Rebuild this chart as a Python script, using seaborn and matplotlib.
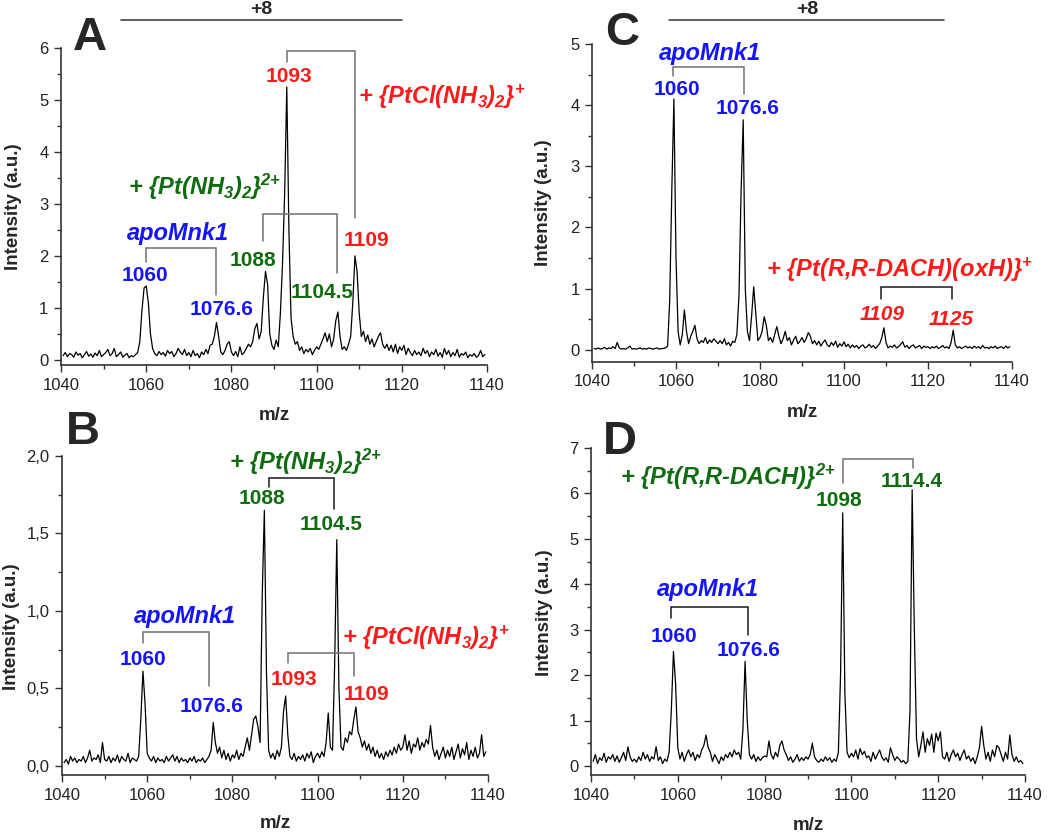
import numpy as np
import pandas as pd
import matplotlib
matplotlib.use("Agg")
import matplotlib.pyplot as plt
import seaborn as sns
from matplotlib.ticker import MultipleLocator, FixedLocator, FixedFormatter

# m/z sampling grid shared by all four spectra (read every 0.5 unit)
mz = np.arange(1040.5, 1140.0, 0.5)

# Panel A: cisplatin-treated Mnk1
int_a = [0.08, 0.14, 0.06, 0.12, 0.10, 0.05, 0.15, 0.09, 0.12, 0.04, 0.10, 0.16, 0.07, 0.11, 0.05, 0.13, 0.08, 0.18, 0.06, 0.10,
         0.14, 0.20, 0.08, 0.12, 0.22, 0.06, 0.10, 0.15, 0.05, 0.09, 0.12, 0.04, 0.08, 0.06, 0.10, 0.14, 0.35, 0.95, 1.38, 1.42,
         1.10, 0.50, 0.22, 0.12, 0.08, 0.16, 0.10, 0.14, 0.07, 0.18, 0.12, 0.16, 0.06, 0.12, 0.22, 0.15, 0.10, 0.20, 0.08, 0.14,
         0.06, 0.18, 0.08, 0.12, 0.04, 0.15, 0.10, 0.20, 0.12, 0.28, 0.30, 0.45, 0.72, 0.45, 0.15, 0.10, 0.18, 0.30, 0.35, 0.15,
         0.08, 0.16, 0.06, 0.25, 0.10, 0.14, 0.22, 0.30, 0.25, 0.35, 0.60, 0.70, 0.40, 0.55, 1.20, 1.70, 1.45, 0.50, 0.28, 0.20,
         0.38, 0.25, 0.90, 1.85, 3.20, 5.25, 2.50, 0.80, 0.45, 0.30, 0.35, 0.18, 0.25, 0.12, 0.20, 0.15, 0.22, 0.10, 0.18, 0.25,
         0.20, 0.30, 0.40, 0.52, 0.35, 0.50, 0.25, 0.40, 0.75, 0.92, 0.45, 0.20, 0.25, 0.18, 0.30, 0.45, 1.10, 2.00, 1.70, 0.90,
         0.45, 0.55, 0.35, 0.48, 0.30, 0.40, 0.25, 0.35, 0.45, 0.52, 0.30, 0.22, 0.30, 0.18, 0.28, 0.15, 0.30, 0.12, 0.25, 0.18,
         0.28, 0.10, 0.22, 0.14, 0.08, 0.18, 0.10, 0.15, 0.08, 0.22, 0.12, 0.18, 0.06, 0.15, 0.10, 0.20, 0.07, 0.14, 0.05, 0.22,
         0.10, 0.18, 0.06, 0.14, 0.08, 0.20, 0.05, 0.12, 0.09, 0.15, 0.04, 0.10, 0.07, 0.12, 0.05, 0.08, 0.18, 0.06, 0.10]

# Panel B
int_b = [0.02, 0.04, 0.01, 0.06, 0.03, 0.05, 0.02, 0.04, 0.03, 0.06, 0.02, 0.05, 0.10, 0.03, 0.05, 0.04, 0.07, 0.02, 0.15, 0.04,
         0.03, 0.06, 0.02, 0.05, 0.03, 0.07, 0.02, 0.06, 0.04, 0.03, 0.08, 0.02, 0.05, 0.04, 0.03, 0.06, 0.30, 0.61, 0.40, 0.08,
         0.05, 0.03, 0.06, 0.02, 0.05, 0.03, 0.04, 0.02, 0.06, 0.03, 0.05, 0.07, 0.03, 0.06, 0.02, 0.05, 0.03, 0.04, 0.02, 0.05,
         0.03, 0.06, 0.02, 0.04, 0.03, 0.05, 0.02, 0.04, 0.06, 0.10, 0.28, 0.15, 0.08, 0.12, 0.05, 0.10, 0.04, 0.08, 0.03, 0.07,
         0.05, 0.10, 0.04, 0.08, 0.06, 0.12, 0.18, 0.10, 0.20, 0.30, 0.32, 0.25, 0.15, 1.10, 1.65, 0.60, 0.10, 0.05, 0.08, 0.04,
         0.10, 0.06, 0.12, 0.35, 0.45, 0.20, 0.06, 0.04, 0.08, 0.03, 0.06, 0.04, 0.07, 0.03, 0.08, 0.05, 0.09, 0.02, 0.06, 0.08,
         0.05, 0.09, 0.06, 0.15, 0.34, 0.12, 0.10, 0.65, 1.46, 0.50, 0.12, 0.10, 0.18, 0.15, 0.22, 0.20, 0.30, 0.38, 0.22, 0.18,
         0.12, 0.16, 0.10, 0.14, 0.08, 0.12, 0.06, 0.10, 0.05, 0.08, 0.04, 0.09, 0.06, 0.10, 0.07, 0.12, 0.08, 0.14, 0.10, 0.12,
         0.20, 0.10, 0.16, 0.08, 0.14, 0.12, 0.18, 0.10, 0.15, 0.12, 0.17, 0.14, 0.26, 0.12, 0.06, 0.10, 0.04, 0.08, 0.12, 0.05,
         0.10, 0.06, 0.12, 0.04, 0.09, 0.14, 0.05, 0.11, 0.07, 0.15, 0.04, 0.10, 0.06, 0.12, 0.05, 0.08, 0.20, 0.06, 0.09]

# Panel C
int_c = [0.02, 0.01, 0.03, 0.01, 0.02, 0.04, 0.01, 0.03, 0.02, 0.05, 0.02, 0.12, 0.03, 0.01, 0.02, 0.01, 0.03, 0.06, 0.01, 0.02,
         0.01, 0.02, 0.03, 0.01, 0.02, 0.01, 0.03, 0.02, 0.01, 0.02, 0.03, 0.01, 0.02, 0.02, 0.03, 0.06, 0.80, 2.60, 4.10, 1.50,
         0.30, 0.08, 0.25, 0.65, 0.30, 0.10, 0.22, 0.30, 0.40, 0.18, 0.10, 0.15, 0.12, 0.20, 0.10, 0.16, 0.12, 0.18, 0.14, 0.10,
         0.15, 0.10, 0.18, 0.08, 0.12, 0.06, 0.14, 0.12, 0.25, 0.90, 2.60, 3.76, 1.00, 0.30, 0.15, 0.55, 1.03, 0.60, 0.15, 0.20,
         0.30, 0.54, 0.40, 0.15, 0.20, 0.12, 0.25, 0.38, 0.22, 0.10, 0.18, 0.30, 0.15, 0.20, 0.08, 0.16, 0.22, 0.10, 0.14, 0.20,
         0.12, 0.18, 0.28, 0.22, 0.10, 0.15, 0.08, 0.14, 0.06, 0.12, 0.16, 0.08, 0.05, 0.12, 0.07, 0.14, 0.04, 0.10, 0.06, 0.13,
         0.05, 0.09, 0.03, 0.08, 0.04, 0.07, 0.02, 0.06, 0.08, 0.03, 0.05, 0.09, 0.04, 0.07, 0.02, 0.06, 0.10, 0.20, 0.36, 0.12,
         0.03, 0.06, 0.04, 0.08, 0.03, 0.05, 0.09, 0.13, 0.04, 0.07, 0.02, 0.06, 0.08, 0.03, 0.05, 0.07, 0.02, 0.06, 0.04, 0.05,
         0.02, 0.05, 0.03, 0.06, 0.02, 0.04, 0.07, 0.03, 0.05, 0.02, 0.12, 0.32, 0.08, 0.03, 0.05, 0.02, 0.04, 0.06, 0.03, 0.05,
         0.02, 0.06, 0.03, 0.05, 0.02, 0.07, 0.03, 0.04, 0.02, 0.05, 0.03, 0.06, 0.02, 0.04, 0.05, 0.02, 0.06, 0.03, 0.05]

# Panel D
int_d = [0.10, 0.25, 0.05, 0.18, 0.12, 0.28, 0.08, 0.20, 0.15, 0.25, 0.10, 0.22, 0.08, 0.18, 0.30, 0.12, 0.42, 0.20, 0.10, 0.15,
         0.08, 0.20, 0.12, 0.30, 0.15, 0.25, 0.10, 0.20, 0.15, 0.42, 0.12, 0.20, 0.05, 0.15, 0.10, 0.30, 1.20, 2.52, 1.80, 0.40,
         0.15, 0.30, 0.10, 0.25, 0.35, 0.20, 0.30, 0.12, 0.25, 0.18, 0.35, 0.45, 0.68, 0.40, 0.30, 0.10, 0.25, 0.15, 0.05, 0.20,
         0.12, 0.25, 0.18, 0.30, 0.20, 0.35, 0.25, 0.30, 0.15, 0.80, 2.30, 1.00, 0.25, 0.15, 0.25, 0.10, 0.20, 0.12, 0.18, 0.22,
         0.20, 0.55, 0.25, 0.15, 0.30, 0.20, 0.45, 0.55, 0.35, 0.25, 0.12, 0.20, 0.08, 0.15, 0.25, 0.10, 0.18, 0.12, 0.20, 0.15,
         0.25, 0.50, 0.20, 0.12, 0.08, 0.15, 0.10, 0.20, 0.12, 0.18, 0.08, 0.15, 0.10, 0.30, 2.00, 5.57, 1.60, 0.30, 0.18, 0.28,
         0.20, 0.35, 0.15, 0.38, 0.25, 0.32, 0.18, 0.22, 0.10, 0.30, 0.15, 0.25, 0.35, 0.20, 0.12, 0.18, 0.08, 0.40, 0.25, 0.12,
         0.20, 0.15, 0.08, 0.12, 0.05, 0.10, 1.20, 6.08, 3.00, 0.60, 0.20, 0.45, 0.75, 0.30, 0.60, 0.45, 0.70, 0.30, 0.72, 0.55,
         0.75, 0.20, 0.15, 0.30, 0.10, 0.25, 0.35, 0.20, 0.28, 0.12, 0.25, 0.35, 0.15, 0.22, 0.10, 0.18, 0.05, 0.20, 0.40, 0.87,
         0.45, 0.15, 0.30, 0.10, 0.35, 0.20, 0.45, 0.40, 0.25, 0.10, 0.30, 0.15, 0.68, 0.25, 0.10, 0.20, 0.08, 0.12, 0.05]

x_ticks = [1040, 1060, 1080, 1100, 1120, 1140]
b_yticks = [0.0, 0.5, 1.0, 1.5, 2.0]
b_yticklabels = ['0,0', '0,5', '1,0', '1,5', '2,0']

spectra = pd.concat([
    pd.DataFrame({'panel': p, 'mz': mz, 'intensity': v})
    for p, v in zip('ABCD', [int_a, int_b, int_c, int_d])
])

sns.set_style('white')
plt.rcParams['font.family'] = ['Liberation Sans', 'DejaVu Sans']
plt.rcParams['mathtext.fontset'] = 'custom'
plt.rcParams['mathtext.rm'] = 'Liberation Sans:italic:bold'
plt.rcParams['mathtext.it'] = 'Liberation Sans:italic:bold'
plt.rcParams['mathtext.bf'] = 'Liberation Sans:italic:bold'

BLUE = '#1414ff'
GREEN = '#0f6b0f'
RED = '#ff1a1a'
GRAY = '#707070'
DARK = '#1a1a1a'

W, H = 1050, 832
fig = plt.figure(figsize=(10.5, 8.32), dpi=100)

# axes boxes in pixels: left, top, right, bottom
boxes = {'A': (61, 48, 487, 365), 'B': (62, 456, 488, 775),
         'C': (592, 44, 1012, 362), 'D': (591, 448, 1025, 775)}
ylims = {'A': (-0.1, 6), 'B': (-0.06, 2), 'C': (-0.2, 5), 'D': (-0.2, 7)}
ylab_x = {'A': -0.092, 'B': -0.099, 'C': -0.096, 'D': -0.087}
ylab_y = {'A': 0.5, 'B': 0.465, 'C': 0.5, 'D': 0.495}
xlab_y = {'A': -0.132, 'B': -0.125, 'C': -0.132, 'D': -0.128}
letters = {'A': (90, 38), 'B': (83, 432), 'C': (622, 33), 'D': (620, 442)}

axes = {}
for p, (l, t, r, b) in boxes.items():
    ax = fig.add_axes([l / W, 1 - b / H, (r - l) / W, (b - t) / H])
    sub = spectra[spectra['panel'] == p]
    sns.lineplot(data=sub, x='mz', y='intensity', ax=ax, color='black',
                 lw=0.9, estimator=None, sort=False)
    ax.set_xlim(1040, 1140)
    ax.set_ylim(*ylims[p])
    for s in ['top', 'right']:
        ax.spines[s].set_visible(False)
    for s in ['left', 'bottom']:
        ax.spines[s].set_color('#333333')
        ax.spines[s].set_linewidth(1.2)
    ax.xaxis.set_major_locator(FixedLocator(x_ticks))
    ax.xaxis.set_minor_locator(MultipleLocator(10))
    if p == 'B':
        ax.yaxis.set_major_locator(FixedLocator(b_yticks))
        ax.yaxis.set_major_formatter(FixedFormatter(b_yticklabels))
        ax.yaxis.set_minor_locator(MultipleLocator(0.25))
    else:
        ax.yaxis.set_major_locator(MultipleLocator(1))
        ax.yaxis.set_minor_locator(MultipleLocator(0.5))
    ax.tick_params(which='both', direction='out', colors='#333333', width=1,
                   labelsize=12, labelcolor='#222222', left=True, bottom=True)
    ax.tick_params(which='major', length=5, pad=4)
    ax.tick_params(which='minor', length=3)
    ax.set_xlabel('m/z', fontsize=13.5, fontweight='bold')
    ax.set_ylabel('Intensity (a.u.)', fontsize=13.5, fontweight='bold')
    ax.xaxis.set_label_coords(0.5, xlab_y[p])
    ax.yaxis.set_label_coords(ylab_x[p], ylab_y[p])
    lx, ly = letters[p]
    fig.text(lx / W, 1 - ly / H, p, fontsize=34, fontweight='bold',
             ha='center', va='center')
    axes[p] = ax


def bracket(ax, x1, x2, ytop, y1, y2, color=GRAY):
    ax.plot([x1, x1, x2, x2], [y1, ytop, ytop, y2], color=color, lw=1.1,
            clip_on=False, solid_joinstyle='miter')


def label(ax, x, y, s, color, size=15, style='normal', ha='center'):
    ax.text(x, y, s, color=color, fontsize=size, fontweight='bold',
            fontstyle=style, ha=ha, va='center', clip_on=False)


SUP2 = r'$^{2{+}}$'
SUP1 = r'$^{{+}}$'

# +8 charge state markers
axes['A'].plot([1054, 1120], [6.54, 6.54], color='#444444', lw=1.2, clip_on=False)
fig.text(261 / W, 1 - 1 / H, '+8', fontsize=14, fontweight='bold', ha='center', va='top')
axes['C'].plot([1058.3, 1123.8], [5.39, 5.39], color='#444444', lw=1.2, clip_on=False)
fig.text(807 / W, 1 - 1 / H, '+8', fontsize=14, fontweight='bold', ha='center', va='top')

# Panel A annotations
ax = axes['A']
bracket(ax, 1060, 1076.3, 2.15, 1.88, 1.25)
label(ax, 1067.5, 2.44, 'apoMnk1', BLUE, 17, 'italic')
label(ax, 1059.7, 1.63, '1060', BLUE)
label(ax, 1077.8, 0.96, '1076.6', BLUE)
bracket(ax, 1087.5, 1104.9, 2.8, 2.28, 1.67)
label(ax, 1055.7, 3.33, '+ {Pt(NH$_3$)$_2$}' + SUP2, GREEN, 17, 'italic', ha='left')
label(ax, 1085.1, 1.92, '1088', GREEN)
label(ax, 1101.3, 1.29, '1104.5', GREEN)
bracket(ax, 1093, 1108.9, 5.94, 5.74, 2.73)
label(ax, 1093.5, 5.46, '1093', RED)
label(ax, 1111.8, 2.29, '1109', RED)
label(ax, 1109.7, 5.06, '+ {PtCl(NH$_3$)$_2$}' + SUP1, RED, 17, 'italic', ha='left')

# Panel B annotations
ax = axes['B']
bracket(ax, 1059.1, 1074.6, 0.866, 0.79, 0.516)
label(ax, 1068.9, 0.963, 'apoMnk1', BLUE, 17, 'italic')
label(ax, 1059.1, 0.688, '1060', BLUE)
label(ax, 1075.1, 0.383, '1076.6', BLUE)
bracket(ax, 1088.5, 1103.9, 1.856, 1.80, 1.66, color=DARK)
label(ax, 1079.3, 1.963, '+ {Pt(NH$_3$)$_2$}' + SUP2, GREEN, 17, 'italic', ha='left')
label(ax, 1086.9, 1.727, '1088', GREEN)
label(ax, 1103.1, 1.555, '1104.5', GREEN)
bracket(ax, 1093.1, 1108.5, 0.727, 0.663, 0.58)
label(ax, 1105.7, 0.824, '+ {PtCl(NH$_3$)$_2$}' + SUP1, RED, 17, 'italic', ha='left')
label(ax, 1094.5, 0.559, '1093', RED)
label(ax, 1111.5, 0.462, '1109', RED)

# Panel C annotations
ax = axes['C']
bracket(ax, 1059.4, 1076.2, 4.63, 4.48, 4.18)
label(ax, 1068.1, 4.85, 'apoMnk1', BLUE, 17, 'italic')
label(ax, 1060.2, 4.26, '1060', BLUE)
label(ax, 1077.1, 3.95, '1076.6', BLUE)
bracket(ax, 1108.8, 1125.8, 1.02, 0.83, 0.83, color=DARK)
label(ax, 1081.4, 1.31, '+ {Pt(R,R-DACH)(oxH)}' + SUP1, RED, 17, 'italic', ha='left')
label(ax, 1109.0, 0.57, '1109', RED, 15, 'italic')
label(ax, 1125.6, 0.50, '1125', RED, 15, 'italic')

# Panel D annotations
ax = axes['D']
bracket(ax, 1098.1, 1114.3, 6.76, 6.23, 6.56)
label(ax, 1046.6, 6.37, '+ {Pt(R,R-DACH)}' + SUP2, GREEN, 17, 'italic', ha='left')
label(ax, 1097.1, 5.84, '1098', GREEN)
label(ax, 1113.9, 6.26, '1114.4', GREEN)
bracket(ax, 1058.4, 1076.1, 3.51, 3.25, 2.89, color=DARK)
label(ax, 1067.0, 3.88, 'apoMnk1', BLUE, 17, 'italic')
label(ax, 1059.1, 2.85, '1060', BLUE)
label(ax, 1076.4, 2.54, '1076.6', BLUE)

fig.savefig('out.png', dpi=100)
